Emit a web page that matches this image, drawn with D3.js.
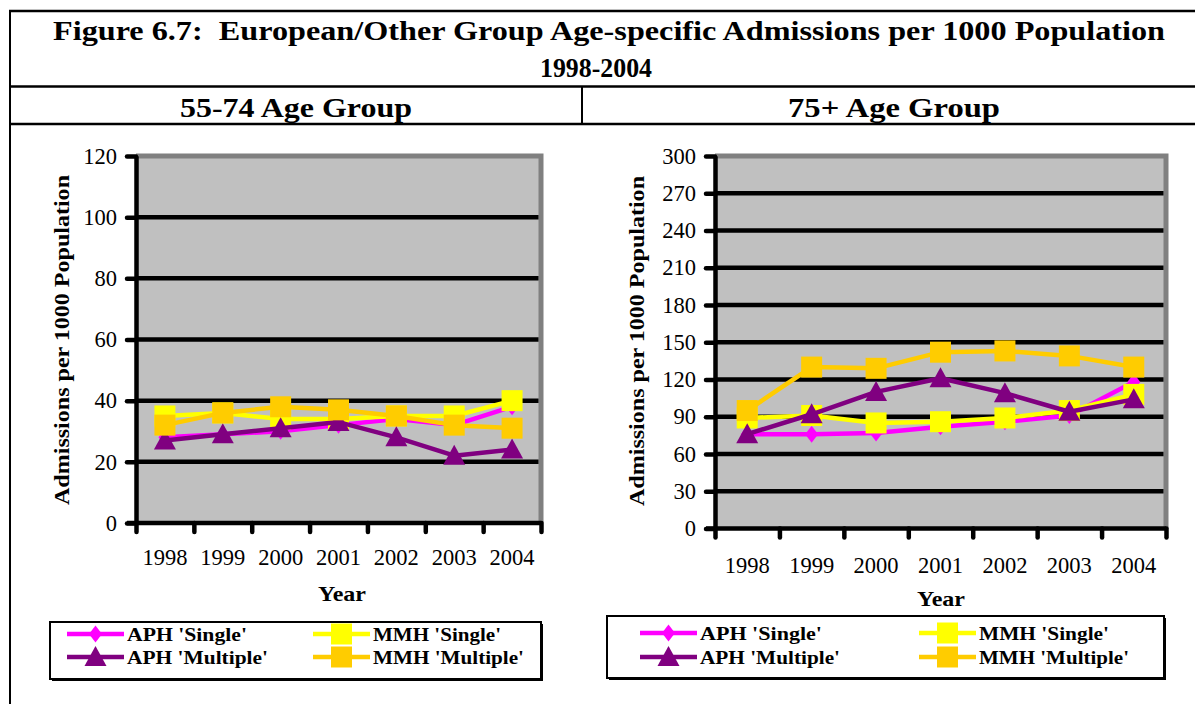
<!DOCTYPE html>
<html>
<head>
<meta charset="utf-8">
<script src="https://cdn.jsdelivr.net/npm/d3@7"></script>
<style>
  html, body { margin: 0; padding: 0; background: #fff; }
  svg { display: block; }
  text { font-family: "Liberation Serif", "Times New Roman", serif; fill: #000; }
</style>
</head>
<body>
<svg id="fig" width="1195" height="704"></svg>
<script>
// ---- data ----
const years = ["1998", "1999", "2000", "2001", "2002", "2003", "2004"];
const seriesNames = ["APH 'Single'", "MMH 'Single'", "APH 'Multiple'", "MMH 'Multiple'"];

// 55-74 age group, admissions per 1000 population
const aphSingle5574   = [28, 29, 30, 32, 34, 32, 38];
const mmhSingle5574   = [35, 36, 34, 34, 35, 35, 40];
const aphMultiple5574 = [27, 29, 31, 33, 28, 22, 24];
const mmhMultiple5574 = [32, 36, 38, 37, 35, 32, 31];

// 75+ age group, admissions per 1000 population
const aphSingle75   = [76, 76, 77, 82, 86, 91, 118];
const mmhSingle75   = [89, 91, 85, 86, 89, 95, 108];
const aphMultiple75 = [76, 92, 110, 121, 109, 94, 104];
const mmhMultiple75 = [95, 130, 129, 142, 143, 139, 130];

const ticks5574 = [0, 20, 40, 60, 80, 100, 120];
const ticks75 = [0, 30, 60, 90, 120, 150, 180, 210, 240, 270, 300];

// ---- styling ----
const colors = {
  "APH 'Single'": "#FF00FF",
  "MMH 'Single'": "#FFFF00",
  "APH 'Multiple'": "#800080",
  "MMH 'Multiple'": "#FFCC00"
};
const shapes = {
  "APH 'Single'": "diamond",
  "MMH 'Single'": "square",
  "APH 'Multiple'": "triangle",
  "MMH 'Multiple'": "square"
};

function markerPath(shape) {
  if (shape === "square") return "M-10.5,-10.5H10.5V10.5H-10.5Z";
  if (shape === "triangle") return "M0,-11L11,9L-11,9Z";
  return "M0,-8.5L6.5,0L0,8.5L-6.5,0Z"; // diamond
}

const svg = d3.select("#fig");

// ---- page frame ----
const frame = svg.append("g").attr("stroke", "#000").attr("fill", "none");
frame.append("line").attr("x1", 9).attr("x2", 1195).attr("y1", 11).attr("y2", 11).attr("stroke-width", 2.5);
frame.append("line").attr("x1", 10).attr("x2", 10).attr("y1", 10).attr("y2", 704).attr("stroke-width", 2);
frame.append("line").attr("x1", 9).attr("x2", 1195).attr("y1", 86.5).attr("y2", 86.5).attr("stroke-width", 2.5);
frame.append("line").attr("x1", 9).attr("x2", 1195).attr("y1", 124).attr("y2", 124).attr("stroke-width", 2.5);
frame.append("line").attr("x1", 582).attr("x2", 582).attr("y1", 86).attr("y2", 124).attr("stroke-width", 2);

function boldText(g, str, x, y, size, len, anchor) {
  const t = g.append("text")
    .attr("x", x).attr("y", y)
    .attr("font-size", size)
    .attr("font-weight", "bold")
    .attr("text-anchor", anchor || "middle")
    .style("white-space", "pre")
    .text(str);
  if (len) t.attr("textLength", len).attr("lengthAdjust", "spacingAndGlyphs");
  return t;
}

boldText(svg, "Figure 6.7:  European/Other Group Age-specific Admissions per 1000 Population", 53, 40, 28, 1112, "start");
boldText(svg, "1998-2004", 596, 77, 28, 112);
boldText(svg, "55-74 Age Group", 296, 117, 28, 232);
boldText(svg, "75+ Age Group", 894, 117, 28, 212);

// ---- chart drawing ----
function drawChart(cfg) {
  const g = svg.append("g");
  const x = d3.scaleBand().domain(years).range([cfg.x0, cfg.x1]);
  const xEdge = d3.scaleLinear().domain([0, years.length]).range([cfg.x0, cfg.x1]);
  const y = d3.scaleLinear().domain([0, cfg.max]).range([cfg.y0, cfg.y1]);

  // plot area
  g.append("rect")
    .attr("x", cfg.x0).attr("y", cfg.y1)
    .attr("width", cfg.x1 - cfg.x0).attr("height", cfg.y0 - cfg.y1)
    .attr("fill", "#C0C0C0");
  g.append("path")
    .attr("d", `M${cfg.x0},${cfg.y1}H${cfg.x1}V${cfg.y0}`)
    .attr("fill", "none").attr("stroke", "#808080").attr("stroke-width", 5);

  // gridlines
  g.append("g")
    .selectAll("line")
    .data(cfg.ticks.filter(d => d > 0 && d < cfg.max))
    .join("line")
    .attr("x1", cfg.x0).attr("x2", cfg.x1 - 2.5)
    .attr("y1", d => y(d)).attr("y2", d => y(d))
    .attr("stroke", "#000").attr("stroke-width", 4.5);

  // y axis
  const yAxis = g.append("g")
    .attr("transform", `translate(${cfg.x0},0)`)
    .call(d3.axisLeft(y).tickValues(cfg.ticks).tickSize(9).tickSizeOuter(0).tickPadding(10));
  yAxis.select(".domain").attr("stroke", "#000").attr("stroke-width", 4.5);
  yAxis.selectAll(".tick line").attr("stroke", "#000").attr("stroke-width", 4.5).attr("stroke-linecap", "round");
  yAxis.selectAll(".tick text")
    .attr("font-family", "Liberation Serif, Times New Roman, serif")
    .attr("font-size", 22.5).attr("fill", "#000");

  // x axis: ticks at category edges, labels at category centres
  const xTicks = g.append("g")
    .attr("transform", `translate(0,${cfg.y0})`)
    .call(d3.axisBottom(xEdge).ticks(years.length).tickSize(9).tickSizeOuter(0).tickFormat(""));
  xTicks.select(".domain").attr("stroke", "#000").attr("stroke-width", 4.5)
    .attr("d", `M${cfg.x0 - 9},0H${cfg.x1}`);
  xTicks.selectAll(".tick line").attr("stroke", "#000").attr("stroke-width", 4.5).attr("stroke-linecap", "round");

  const xLabels = g.append("g")
    .attr("transform", `translate(0,${cfg.y0})`)
    .call(d3.axisBottom(x).tickSize(0).tickPadding(cfg.labelPad));
  xLabels.select(".domain").remove();
  xLabels.selectAll(".tick text")
    .attr("font-family", "Liberation Serif, Times New Roman, serif")
    .attr("font-size", 22.5).attr("fill", "#000");

  // axis titles
  boldText(g, "Year", cfg.yearX, cfg.yearY, 21, 48);
  boldText(g, "Admissions per 1000 Population", 0, 0, 21, 330)
    .attr("dy", "0.35em")
    .attr("transform", `translate(${cfg.ytX},${cfg.ytY}) rotate(-90)`);

  // series, drawn in legend order so later ones sit on top
  const line = d3.line()
    .x((d, i) => x(years[i]) + x.bandwidth() / 2)
    .y(d => y(d));
  cfg.series.forEach(s => {
    const c = colors[s.name];
    g.append("path")
      .datum(s.values)
      .attr("d", line)
      .attr("fill", "none").attr("stroke", c).attr("stroke-width", 4.5)
      .attr("stroke-linejoin", "round");
    g.append("g").selectAll("path")
      .data(s.values)
      .join("path")
      .attr("transform", (d, i) => `translate(${x(years[i]) + x.bandwidth() / 2},${y(d)})`)
      .attr("d", markerPath(shapes[s.name]))
      .attr("fill", c);
  });

  // legend
  const L = cfg.legend;
  const lg = g.append("g");
  lg.append("rect")
    .attr("x", L.x + 2).attr("y", L.y + 2).attr("width", L.w).attr("height", L.h)
    .attr("fill", "#000");
  lg.append("rect")
    .attr("x", L.x).attr("y", L.y).attr("width", L.w).attr("height", L.h)
    .attr("fill", "#fff").attr("stroke", "#000").attr("stroke-width", 2);
  seriesNames.forEach((name, i) => {
    const col = i % 2, row = Math.floor(i / 2);
    const lx = L.cols[col], ly = L.rows[row];
    lg.append("line")
      .attr("x1", lx).attr("x2", lx + L.lineLen)
      .attr("y1", ly).attr("y2", ly)
      .attr("stroke", colors[name]).attr("stroke-width", 4.5);
    lg.append("path")
      .attr("transform", `translate(${lx + L.lineLen / 2},${ly})`)
      .attr("d", markerPath(shapes[name]))
      .attr("fill", colors[name]);
    boldText(lg, name, lx + L.lineLen + 3, ly + 7, 19, L.textLens[i], "start");
  });
}

drawChart({
  x0: 136, x1: 541, y0: 523, y1: 156, max: 120, ticks: ticks5574,
  labelPad: 26, yearX: 342, yearY: 601, ytX: 62, ytY: 340,
  series: [
    { name: "APH 'Single'", values: aphSingle5574 },
    { name: "MMH 'Single'", values: mmhSingle5574 },
    { name: "APH 'Multiple'", values: aphMultiple5574 },
    { name: "MMH 'Multiple'", values: mmhMultiple5574 }
  ],
  legend: { x: 50, y: 622, w: 491, h: 57, cols: [67, 313], rows: [634, 657], lineLen: 57,
            textLens: [120, 128, 141, 151] }
});

drawChart({
  x0: 715, x1: 1166, y0: 528.5, y1: 156, max: 300, ticks: ticks75,
  labelPad: 28.5, yearX: 941, yearY: 606, ytX: 637, ytY: 341,
  series: [
    { name: "APH 'Single'", values: aphSingle75 },
    { name: "MMH 'Single'", values: mmhSingle75 },
    { name: "APH 'Multiple'", values: aphMultiple75 },
    { name: "MMH 'Multiple'", values: mmhMultiple75 }
  ],
  legend: { x: 607, y: 616, w: 557, h: 62, cols: [640, 919], rows: [633, 657], lineLen: 57,
            textLens: [122, 130, 140, 150] }
});
</script>
</body>
</html>
